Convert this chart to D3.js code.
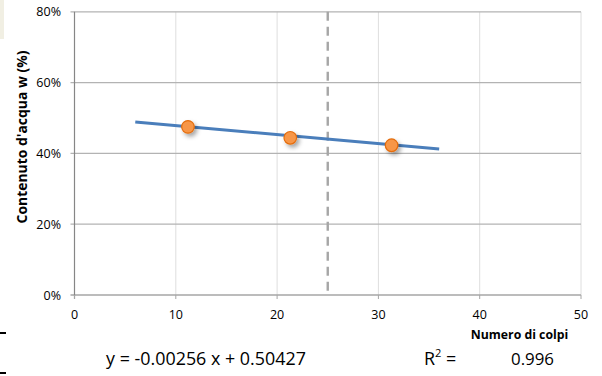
<!DOCTYPE html>
<html>
<head>
<meta charset="utf-8">
<script src="https://cdn.jsdelivr.net/npm/d3@7"></script>
<style>
  html, body { margin: 0; padding: 0; background: #fff; }
  svg { display: block; }
  text { font-family: "Open Sans", "Noto Sans", sans-serif; fill: #000; }
</style>
</head>
<body>
<svg id="chart" width="602" height="376"></svg>
<script>
// ---- data ----
const xTicks = [0, 10, 20, 30, 40, 50];
const yTicks = [0, 0.2, 0.4, 0.6, 0.8];
const blows = [11.2, 21.3, 31.3];
const water = [0.475, 0.444, 0.423];
const fitRange = [6, 36];
const slope = -0.00256;
const intercept = 0.50427;
const r2 = 0.996;
const refBlows = 25;
const xTitle = "Numero di colpi";
const yTitle = "Contenuto d'acqua w (%)";

// ---- layout ----
const svg = d3.select("#chart");
const x = d3.scaleLinear().domain([0, 50]).range([74.5, 581]);
const y = d3.scaleLinear().domain([0, 0.8]).range([295, 11.8]);

function fit(sel, target) {
  const node = sel.node();
  const fs = parseFloat(sel.attr("font-size"));
  const w = node.getComputedTextLength();
  sel.attr("font-size", (fs * target / w).toFixed(2));
  return sel;
}

// background decorations
svg.append("rect").attr("x", 0).attr("y", 0).attr("width", 4).attr("height", 39).attr("fill", "#f1efe3");
svg.append("rect").attr("x", 0).attr("y", 332).attr("width", 6).attr("height", 2).attr("fill", "#000");
svg.append("rect").attr("x", 0).attr("y", 372).attr("width", 6).attr("height", 2).attr("fill", "#000");

// vertical gridlines
svg.append("g").selectAll("line").data(xTicks.filter(d => d > 0)).join("line")
  .attr("x1", d => x(d)).attr("x2", d => x(d))
  .attr("y1", y(0.8)).attr("y2", y(0))
  .attr("stroke", "#dedede").attr("stroke-width", 1);

// horizontal gridlines
svg.append("g").selectAll("line").data(yTicks.filter(d => d > 0)).join("line")
  .attr("x1", x(0) - 4).attr("x2", x(50))
  .attr("y1", d => y(d)).attr("y2", d => y(d))
  .attr("stroke", "#b3b3b3").attr("stroke-width", 1.3);

// x baseline
svg.append("line")
  .attr("x1", x(0) - 4).attr("x2", x(50))
  .attr("y1", y(0)).attr("y2", y(0))
  .attr("stroke", "#a6a6a6").attr("stroke-width", 1.3);

// y axis line
svg.append("line")
  .attr("x1", x(0)).attr("x2", x(0))
  .attr("y1", y(0.8)).attr("y2", y(0) + 4)
  .attr("stroke", "#868686").attr("stroke-width", 1.2);

// x ticks
svg.append("g").selectAll("line").data(xTicks).join("line")
  .attr("x1", d => x(d)).attr("x2", d => x(d))
  .attr("y1", y(0)).attr("y2", y(0) + 4)
  .attr("stroke", "#a6a6a6").attr("stroke-width", 1);

// reference dashed line
svg.append("line")
  .attr("x1", x(refBlows)).attr("x2", x(refBlows))
  .attr("y1", y(0.8)).attr("y2", y(0))
  .attr("stroke", "#a6a6a6").attr("stroke-width", 2.4)
  .attr("stroke-dasharray", "9,6");

// y tick labels
svg.append("g").selectAll("text").data(yTicks).join("text")
  .attr("x", 61).attr("y", d => y(d))
  .attr("text-anchor", "end").attr("dominant-baseline", "central")
  .attr("font-size", 12.5).attr("fill", "#404040")
  .text(d => d3.format(".0%")(d));

// x tick labels
svg.append("g").selectAll("text").data(xTicks).join("text")
  .attr("x", d => x(d)).attr("y", 314)
  .attr("text-anchor", "middle").attr("dominant-baseline", "central")
  .attr("font-size", 12.5).attr("fill", "#404040")
  .text(d => d);

// regression line
const line = d3.line().x(d => x(d)).y(d => y(slope * d + intercept));
svg.append("path").datum(fitRange)
  .attr("d", line).attr("fill", "none")
  .attr("stroke", "#4a7ebb").attr("stroke-width", 3);

// shadow filter
const defs = svg.append("defs");
const f = defs.append("filter").attr("id", "sh").attr("x", "-50%").attr("y", "-50%").attr("width", "220%").attr("height", "220%");
f.append("feDropShadow").attr("dx", 2.5).attr("dy", 3).attr("stdDeviation", 2)
  .attr("flood-color", "#000").attr("flood-opacity", 0.35);

// points
svg.append("g").selectAll("circle").data(blows.map((b, i) => [b, water[i]])).join("circle")
  .attr("cx", d => x(d[0])).attr("cy", d => y(d[1])).attr("r", 6.3)
  .attr("fill", "#f79646").attr("stroke", "#e46c0a").attr("stroke-width", 1.2)
  .attr("filter", "url(#sh)");

// axis titles
const yt = svg.append("text")
  .attr("transform", "translate(21,137) rotate(-90)")
  .attr("text-anchor", "middle").attr("dominant-baseline", "central")
  .attr("font-weight", "bold").attr("font-size", 12).text(yTitle);
fit(yt, 173);

const xt = svg.append("text")
  .attr("x", 519.5).attr("y", 334)
  .attr("text-anchor", "middle").attr("dominant-baseline", "central")
  .attr("font-weight", "bold").attr("font-size", 11).text(xTitle);
fit(xt, 97.6);

// equation
const eq = svg.append("text")
  .attr("x", 206).attr("y", 358)
  .attr("text-anchor", "middle").attr("dominant-baseline", "central")
  .attr("font-size", 14)
  .text(`y = ${slope.toFixed(5)} x + ${intercept.toFixed(5)}`);
fit(eq, 200);

const eqFs = parseFloat(eq.attr("font-size"));

const r2t = svg.append("text")
  .attr("x", 424).attr("y", 358)
  .attr("dominant-baseline", "central")
  .attr("font-size", eqFs);
r2t.append("tspan").text("R");
r2t.append("tspan").attr("font-size", "0.62em").attr("dy", "-0.55em").text("2");
r2t.append("tspan").attr("dy", "0.34em").text(" =");

const r2v = svg.append("text")
  .attr("x", 532.5).attr("y", 358)
  .attr("text-anchor", "middle").attr("dominant-baseline", "central")
  .attr("font-size", 14)
  .text(r2.toFixed(3));
fit(r2v, 43);
</script>
</body>
</html>
